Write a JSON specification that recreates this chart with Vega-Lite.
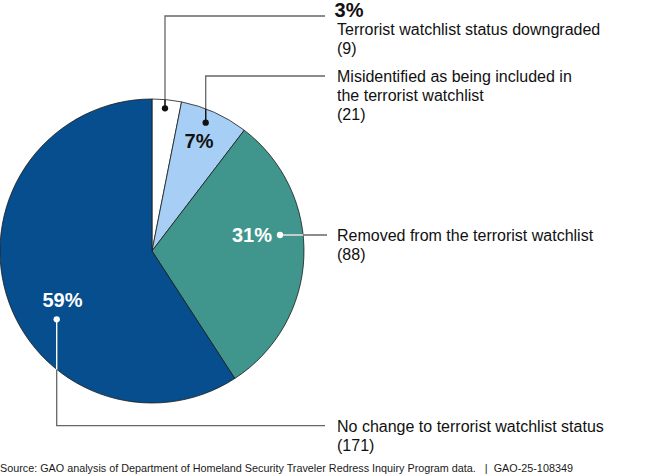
{
  "$schema": "https://vega.github.io/schema/vega-lite/v6.json",
  "width": 650,
  "height": 475,
  "padding": 0,
  "autosize": {"type": "none"},
  "background": "#ffffff",
  "config": {"view": {"stroke": null}, "text": {"font": "Liberation Sans"}},
  "datasets": {
    "slices": [
      {"category": "Terrorist watchlist status downgraded", "count": 9, "ord": 1},
      {"category": "Misidentified as being included in the terrorist watchlist", "count": 21, "ord": 2},
      {"category": "Removed from the terrorist watchlist", "count": 88, "ord": 3},
      {"category": "No change to terrorist watchlist status", "count": 171, "ord": 4}
    ],
    "leaders": [
      {"seg": "a", "ord": 1, "px": 0.0855, "py": 0.9388},
      {"seg": "a", "ord": 2, "px": 0.0855, "py": 1.5461},
      {"seg": "a", "ord": 3, "px": 1.1382, "py": 1.5461},
      {"seg": "b", "ord": 1, "px": 0.3533, "py": 0.8441},
      {"seg": "b", "ord": 2, "px": 0.3533, "py": 1.1513},
      {"seg": "b", "ord": 3, "px": 1.1382, "py": 1.1513},
      {"seg": "c", "ord": 1, "px": 0.8421, "py": 0.1053},
      {"seg": "c", "ord": 2, "px": 1.1513, "py": 0.1053},
      {"seg": "d", "ord": 1, "px": -0.627, "py": -0.4493},
      {"seg": "d", "ord": 2, "px": -0.627, "py": -1.1493},
      {"seg": "d", "ord": 3, "px": 1.1382, "py": -1.1493}
    ],
    "inner": [
      {"seg": "a", "ord": 1, "px": 0.0855, "py": 0.9388, "col": "#111111"},
      {"seg": "a", "ord": 2, "px": 0.0855, "py": 0.9963, "col": "#111111"},
      {"seg": "b", "ord": 1, "px": 0.3533, "py": 0.8441, "col": "#111111"},
      {"seg": "b", "ord": 2, "px": 0.3533, "py": 0.9355, "col": "#111111"},
      {"seg": "c", "ord": 1, "px": 0.8421, "py": 0.1053, "col": "#ffffff"},
      {"seg": "c", "ord": 2, "px": 0.9944, "py": 0.1053, "col": "#ffffff"},
      {"seg": "d", "ord": 1, "px": -0.627, "py": -0.4493, "col": "#ffffff"},
      {"seg": "d", "ord": 2, "px": -0.627, "py": -0.779, "col": "#ffffff"}
    ],
    "dots": [
      {"px": 0.0855, "py": 0.9388, "col": "#111111"},
      {"px": 0.3533, "py": 0.8441, "col": "#111111"},
      {"px": 0.8421, "py": 0.1053, "col": "#ffffff"},
      {"px": -0.627, "py": -0.4493, "col": "#ffffff"}
    ],
    "pcts": [
      {"t": "3%", "px": 1.2961, "py": 1.5395, "col": "#111111"},
      {"t": "7%", "px": 0.3092, "py": 0.6776, "col": "#111111"},
      {"t": "31%", "px": 0.6579, "py": 0.0612, "col": "#ffffff"},
      {"t": "59%", "px": -0.5888, "py": -0.3704, "col": "#ffffff"}
    ],
    "labels": [
      {"t": ["Terrorist watchlist status downgraded", "(9)"], "px": 1.2171, "py": 1.4211},
      {"t": ["Misidentified as being included in", "the terrorist watchlist", "(21)"], "px": 1.2171, "py": 1.1118},
      {"t": ["Removed from the terrorist watchlist", "(88)"], "px": 1.2171, "py": 0.0638},
      {"t": ["No change to terrorist watchlist status", "(171)"], "px": 1.2171, "py": -1.1908}
    ],
    "source": [
      {"t": "Source: GAO analysis of Department of Homeland Security Traveler Redress Inquiry Program data.\u00a0\u00a0\u00a0|\u00a0\u00a0GAO-25-108349", "px": -1.0, "py": -1.4507}
    ]
  },
  "layer": [
    {
      "data": {"name": "slices"},
      "mark": {"type": "arc", "outerRadius": 152, "stroke": "#1a1a1a", "strokeWidth": 0.8},
      "encoding": {
        "theta": {"field": "count", "type": "quantitative", "stack": true},
        "order": {"field": "ord", "type": "quantitative"},
        "color": {
          "field": "category", "type": "nominal", "legend": null,
          "scale": {
            "domain": ["Terrorist watchlist status downgraded", "Misidentified as being included in the terrorist watchlist", "Removed from the terrorist watchlist", "No change to terrorist watchlist status"],
            "range": ["#ffffff", "#a7cff5", "#40968d", "#064e8d"]
          }
        },
        "x": {"datum": 0, "type": "quantitative", "scale": {"domain": [-1, 3.2763], "nice": false, "zero": false}, "axis": null},
        "y": {"datum": 0, "type": "quantitative", "scale": {"domain": [-1.4737, 1.6513], "nice": false, "zero": false}, "axis": null}
      }
    },
    {
      "data": {"name": "leaders"},
      "mark": {"type": "line", "color": "#666666", "strokeWidth": 1.3},
      "encoding": {
        "x": {"field": "px", "type": "quantitative", "scale": {"domain": [-1, 3.2763], "nice": false, "zero": false}, "axis": null},
        "y": {"field": "py", "type": "quantitative", "scale": {"domain": [-1.4737, 1.6513], "nice": false, "zero": false}, "axis": null},
        "detail": {"field": "seg"},
        "order": {"field": "ord", "type": "quantitative"}
      }
    },
    {
      "data": {"name": "inner"},
      "mark": {"type": "line", "strokeWidth": 1.3},
      "encoding": {
        "x": {"field": "px", "type": "quantitative", "scale": {"domain": [-1, 3.2763], "nice": false, "zero": false}, "axis": null},
        "y": {"field": "py", "type": "quantitative", "scale": {"domain": [-1.4737, 1.6513], "nice": false, "zero": false}, "axis": null},
        "detail": {"field": "seg"},
        "order": {"field": "ord", "type": "quantitative"},
        "color": {"field": "col", "type": "nominal", "scale": null}
      }
    },
    {
      "data": {"name": "dots"},
      "mark": {"type": "circle", "size": 40, "opacity": 1},
      "encoding": {
        "x": {"field": "px", "type": "quantitative", "scale": {"domain": [-1, 3.2763], "nice": false, "zero": false}, "axis": null},
        "y": {"field": "py", "type": "quantitative", "scale": {"domain": [-1.4737, 1.6513], "nice": false, "zero": false}, "axis": null},
        "color": {"field": "col", "type": "nominal", "scale": null}
      }
    },
    {
      "data": {"name": "pcts"},
      "mark": {"type": "text", "fontSize": 20, "fontWeight": "bold", "align": "center", "baseline": "alphabetic"},
      "encoding": {
        "x": {"field": "px", "type": "quantitative", "scale": {"domain": [-1, 3.2763], "nice": false, "zero": false}, "axis": null},
        "y": {"field": "py", "type": "quantitative", "scale": {"domain": [-1.4737, 1.6513], "nice": false, "zero": false}, "axis": null},
        "text": {"field": "t"},
        "color": {"field": "col", "type": "nominal", "scale": null}
      }
    },
    {
      "data": {"name": "labels"},
      "mark": {"type": "text", "fontSize": 16, "align": "left", "baseline": "alphabetic", "lineHeight": 19, "color": "#111111"},
      "encoding": {
        "x": {"field": "px", "type": "quantitative", "scale": {"domain": [-1, 3.2763], "nice": false, "zero": false}, "axis": null},
        "y": {"field": "py", "type": "quantitative", "scale": {"domain": [-1.4737, 1.6513], "nice": false, "zero": false}, "axis": null},
        "text": {"field": "t"}
      }
    },
    {
      "data": {"name": "source"},
      "mark": {"type": "text", "fontSize": 10.8, "align": "left", "baseline": "alphabetic", "color": "#1a1a1a"},
      "encoding": {
        "x": {"field": "px", "type": "quantitative", "scale": {"domain": [-1, 3.2763], "nice": false, "zero": false}, "axis": null},
        "y": {"field": "py", "type": "quantitative", "scale": {"domain": [-1.4737, 1.6513], "nice": false, "zero": false}, "axis": null},
        "text": {"field": "t"}
      }
    }
  ]
}
